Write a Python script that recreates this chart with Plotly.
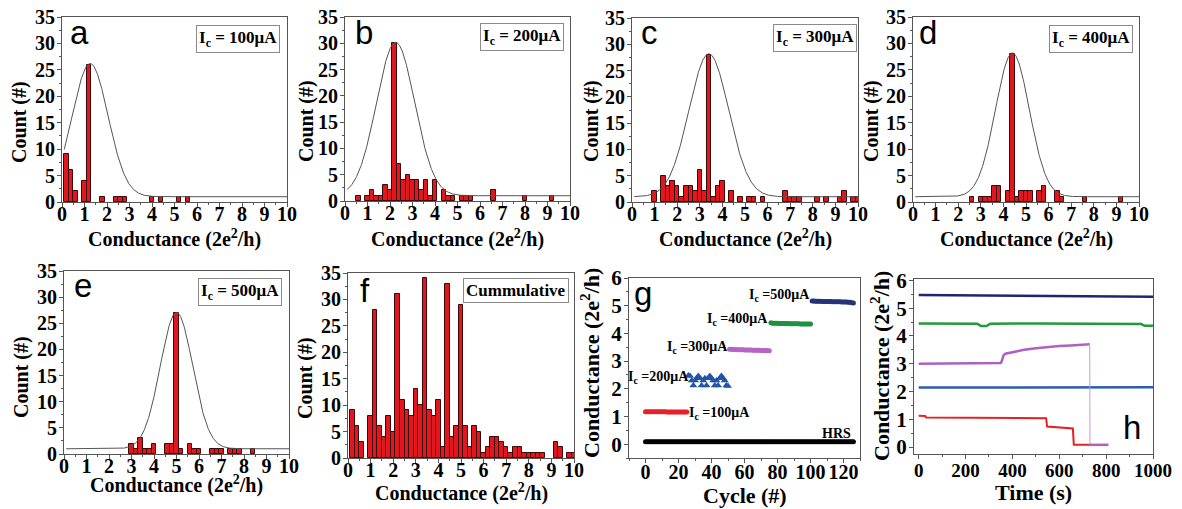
import numpy as np
import plotly.graph_objects as go

W, H = 1182, 509

# ---------------- histogram data (bin centre, count) ----------------
a_x = [0.2, 0.4, 0.6, 1.0, 1.2, 1.8, 2.4, 2.6, 2.8, 4.0, 4.4, 5.2, 5.6]
a_y = [9, 6, 2, 4, 26, 1, 1, 1, 1, 1, 1, 1, 1]

b_x = [0.6, 1.0, 1.2, 1.4, 1.6, 1.8, 2.0, 2.2, 2.4, 2.6, 2.8, 3.0, 3.2, 3.4, 3.6, 3.8, 4.0,
       4.4, 4.6, 4.8, 5.2, 5.4, 5.6, 6.6, 8.0, 9.2]
b_y = [1, 1, 2, 1, 1, 3, 2, 30, 7, 4, 5, 4, 4, 2, 4, 1, 4,
       2, 1, 1, 1, 1, 1, 2, 1, 1]

c_x = [1.0, 1.4, 1.6, 1.8, 2.0, 2.2, 2.4, 2.6, 2.8, 3.0, 3.2, 3.4, 3.6, 3.8, 4.0, 4.4, 4.8,
       5.2, 5.4, 5.8, 6.8, 7.0, 7.2, 7.4, 8.2, 8.6, 9.2, 9.4, 9.8, 10.0]
c_y = [2, 5, 3, 4, 3, 1, 3, 3, 2, 6, 2, 28, 1, 3, 4, 2, 1,
       1, 1, 1, 2, 1, 1, 1, 1, 1, 1, 2, 1, 1]

d_x = [2.6, 3.0, 3.2, 3.4, 3.6, 3.8, 4.2, 4.4, 4.6, 4.8, 5.0, 5.2, 5.6, 5.8, 6.4, 6.6, 7.6, 9.2]
d_y = [1, 1, 1, 1, 3, 3, 2, 28, 1, 2, 2, 2, 2, 3, 2, 1, 1, 1]

e_x = [3.0, 3.2, 3.4, 3.6, 3.8, 4.0, 4.6, 4.8, 5.0, 5.2, 5.6, 5.8, 6.0, 6.6, 6.8, 7.0,
       7.4, 7.6, 7.8, 8.4]
e_y = [2, 1, 3, 1, 1, 2, 2, 2, 27, 1, 2, 1, 1, 1, 1, 1,
       1, 1, 1, 1]

f_x = [0.2, 0.4, 0.6, 1.0, 1.2, 1.4, 1.6, 1.8, 2.0, 2.2, 2.4, 2.6, 2.8, 3.0, 3.2, 3.4, 3.6,
       3.8, 4.0, 4.2, 4.4, 4.6, 4.8, 5.0, 5.2, 5.4, 5.6, 5.8, 6.0, 6.2, 6.4, 6.6, 6.8, 7.0,
       7.2, 7.4, 7.6, 7.8, 8.0, 8.2, 8.4, 8.6, 9.2, 9.4, 9.8, 10.0]
f_y = [9, 6, 3, 8, 28, 6, 4, 8, 5, 31, 11, 9, 8, 13, 10, 34, 9,
       8, 11, 2, 33, 4, 6, 29, 6, 2, 6, 5, 1, 2, 4, 4, 3, 2,
       1, 2, 2, 1, 1, 1, 1, 1, 3, 2, 1, 1]

# Gaussian fit parameters for panels a-e
fit_center = [1.25, 2.25, 3.4, 4.4, 5.0]
fit_amp = [25.2, 29.2, 27.2, 27.2, 26.1]
fit_sigma = [0.8, 0.85, 0.88, 0.75, 0.72]
fit_offset = [1.0, 1.0, 1.0, 1.0, 1.0]

hist_labels = ["I<sub>c</sub> = 100μA", "I<sub>c</sub> = 200μA", "I<sub>c</sub> = 300μA",
               "I<sub>c</sub> = 400μA", "I<sub>c</sub> = 500μA", "Cummulative"]
panel_letters = ["a", "b", "c", "d", "e", "f", "g", "h"]

# ---------------- panel g: conductance vs cycle ----------------
g_c100_x = list(range(0, 26))
g_c100_y = [1.17, 1.17, 1.17, 1.17, 1.17, 1.17, 1.17, 1.17, 1.17, 1.17, 1.17, 1.17, 1.17,
            1.16, 1.16, 1.16, 1.16, 1.16, 1.16, 1.16, 1.16, 1.16, 1.16, 1.16, 1.16, 1.16]
g_c200_x = list(range(26, 51))
g_c200_y = [2.48, 2.46, 2.30, 2.12, 2.30, 2.38, 2.46, 2.38, 2.12, 2.30, 2.38, 2.12, 2.38,
            2.46, 2.38, 2.30, 2.12, 2.30, 2.12, 2.38, 2.46, 2.38, 2.30, 2.12, 2.10]
g_c300_x = list(range(51, 76))
g_c300_y = [3.43, 3.43, 3.42, 3.42, 3.42, 3.41, 3.41, 3.41, 3.41, 3.40, 3.40, 3.40, 3.40,
            3.40, 3.39, 3.39, 3.39, 3.39, 3.39, 3.38, 3.38, 3.38, 3.38, 3.37, 3.37]
g_c400_x = list(range(76, 101))
g_c400_y = [4.38, 4.37, 4.37, 4.37, 4.37, 4.36, 4.36, 4.36, 4.36, 4.36, 4.36, 4.35, 4.35,
            4.35, 4.35, 4.35, 4.35, 4.35, 4.34, 4.34, 4.34, 4.34, 4.34, 4.34, 4.34]
g_c500_x = list(range(101, 127))
g_c500_y = [5.17, 5.17, 5.16, 5.16, 5.16, 5.16, 5.15, 5.15, 5.15, 5.15, 5.15, 5.15, 5.14,
            5.14, 5.14, 5.14, 5.14, 5.14, 5.13, 5.13, 5.13, 5.13, 5.12, 5.12, 5.11, 5.10]
g_hrs_x = list(range(0, 127))
g_hrs_y = [0.085, 0.085, 0.085, 0.085, 0.085, 0.085, 0.085, 0.085, 0.085, 0.085,
           0.085, 0.085, 0.085, 0.085, 0.085, 0.085, 0.085, 0.085, 0.085, 0.085,
           0.085, 0.085, 0.085, 0.085, 0.085, 0.085, 0.085, 0.085, 0.085, 0.085,
           0.085, 0.085, 0.085, 0.085, 0.085, 0.085, 0.085, 0.085, 0.085, 0.085,
           0.085, 0.085, 0.085, 0.085, 0.085, 0.085, 0.085, 0.085, 0.085, 0.085,
           0.085, 0.085, 0.085, 0.085, 0.085, 0.085, 0.085, 0.085, 0.085, 0.085,
           0.085, 0.085, 0.085, 0.085, 0.085, 0.085, 0.085, 0.085, 0.085, 0.085,
           0.085, 0.085, 0.085, 0.085, 0.085, 0.085, 0.085, 0.085, 0.085, 0.085,
           0.085, 0.085, 0.085, 0.085, 0.085, 0.085, 0.085, 0.085, 0.085, 0.085,
           0.085, 0.085, 0.085, 0.085, 0.085, 0.085, 0.085, 0.085, 0.085, 0.085,
           0.085, 0.085, 0.085, 0.085, 0.085, 0.085, 0.085, 0.085, 0.085, 0.085,
           0.085, 0.085, 0.085, 0.085, 0.085, 0.085, 0.085, 0.085, 0.085, 0.085,
           0.085, 0.085, 0.085, 0.085, 0.085, 0.085, 0.085]
g_labels = ["I<sub>c</sub> =100μA", "I<sub>c</sub> =200μA", "I<sub>c</sub> =300μA",
            "I<sub>c</sub> =400μA", "I<sub>c</sub> =500μA", "HRS"]
g_label_x = [45, 8, 31.5, 55.5, 81.5, 115.8]
g_label_y = [1.12, 2.42, 3.5, 4.5, 5.37, 0.4]

# ---------------- panel h: conductance vs time ----------------
h_navy_t = [0, 200, 400, 600, 800, 1000]
h_navy_y = [5.47, 5.46, 5.45, 5.45, 5.43, 5.41]
h_green_t = [0, 250, 258, 265, 290, 298, 305, 500, 700, 950, 958, 965, 995, 1000]
h_green_y = [4.45, 4.44, 4.40, 4.36, 4.36, 4.40, 4.44, 4.45, 4.44, 4.43, 4.39, 4.37, 4.37, 4.38]
h_mag_t = [0, 150, 350, 355, 362, 370, 400, 450, 500, 550, 600, 650, 700, 730]
h_mag_y = [3.0, 3.01, 3.03, 3.1, 3.3, 3.36, 3.42, 3.5, 3.56, 3.61, 3.64, 3.66, 3.68, 3.70]
h_magdrop_t = [730, 731]
h_magdrop_y = [3.70, 0.08]
h_magtail_t = [731, 810]
h_magtail_y = [0.08, 0.08]
h_blue_t = [0, 500, 1000]
h_blue_y = [2.14, 2.15, 2.15]
h_red_t = [0, 28, 32, 200, 400, 540, 544, 548, 580, 620, 640, 658, 662, 731]
h_red_y = [1.13, 1.12, 1.06, 1.05, 1.06, 1.04, 1.04, 0.74, 0.72, 0.71, 0.68, 0.67, 0.08, 0.08]

# ---------------- layout geometry (pixels) ----------------
# (left, right, top, bottom)
boxes = [
    (62, 287, 17, 202), (345, 570, 17, 201), (632, 858, 18, 202), (913, 1139, 17, 202),
    (64, 289, 271, 454), (348, 574, 273, 458), (629, 860, 278, 458), (914, 1153, 279, 454),
]

SERIF = "Liberation Serif"
SANS = "Liberation Sans"
AX = "#555555"


def px_x(p):
    return p / W


def px_y(p):
    return 1 - p / H


fig = go.Figure()
annotations = []
layout = {}

hist_x = [a_x, b_x, c_x, d_x, e_x, f_x]
hist_y = [a_y, b_y, c_y, d_y, e_y, f_y]


def axis(dom, rng, dtick, minor_dtick, fsize, standoff):
    return dict(
        domain=dom, range=rng, autorange=False, automargin=False,
        showline=True, linecolor=AX, linewidth=1, mirror=True,
        ticks="outside", ticklen=4, tickwidth=1, tickcolor=AX, dtick=dtick, tick0=0,
        minor=dict(ticks="outside", ticklen=2, tickcolor=AX, dtick=minor_dtick, tick0=0, showgrid=False),
        showgrid=False, zeroline=False, fixedrange=True, ticklabelstandoff=standoff,
        tickfont=dict(family=SERIF, size=fsize, color="black", weight="bold"),
    )


for i in range(8):
    n = i + 1
    xa = "x" if n == 1 else f"x{n}"
    ya = "y" if n == 1 else f"y{n}"
    l, r, t, b = boxes[i]
    xd = [px_x(l), px_x(r)]
    yd = [px_y(b), px_y(t)]
    if i < 6:
        xax = axis(xd, [0, 10], 1, 0.5, 20, -10)
        yax = axis(yd, [0, 35], 5, 2.5, 20, -2)
    elif i == 6:
        xax = axis(xd, [-10, 130], 20, 10, 20, -8)
        yax = axis(yd, [-0.5, 6], 1, 0.5, 21, -2)
    else:
        xax = axis(xd, [-20, 1000], 200, 100, 19, -5)
        yax = axis(yd, [-0.25, 6.05], 1, 0.5, 21, -2)
    xax["anchor"] = ya
    yax["anchor"] = xa
    layout["xaxis" if n == 1 else f"xaxis{n}"] = xax
    layout["yaxis" if n == 1 else f"yaxis{n}"] = yax

    if i < 6:
        fig.add_trace(go.Bar(
            x=hist_x[i], y=hist_y[i], width=0.2, xaxis=xa, yaxis=ya,
            marker=dict(color="#E3161E", line=dict(color="#3a0a0a", width=1)),
        ))
    if i < 5:
        gx = np.linspace(0.1, 10, 500)
        gy = fit_offset[i] + fit_amp[i] * np.exp(-(gx - fit_center[i]) ** 2 / (2 * fit_sigma[i] ** 2))
        fig.add_trace(go.Scatter(x=gx, y=gy, mode="lines", xaxis=xa, yaxis=ya,
                                 line=dict(color="#555555", width=1)))

# panel g traces
g_series = [
    (g_hrs_x, g_hrs_y, "#000000", "circle"),
    (g_c100_x, g_c100_y, "#E8202A", "circle"),
    (g_c300_x, g_c300_y, "#B565C3", "circle"),
    (g_c400_x, g_c400_y, "#1E9140", "circle"),
    (g_c500_x, g_c500_y, "#243478", "circle"),
]
for xs, ys, col, sym in g_series:
    fig.add_trace(go.Scatter(x=xs, y=ys, mode="lines+markers", xaxis="x7", yaxis="y7",
                             line=dict(color=col, width=3),
                             marker=dict(color=col, size=5, symbol=sym)))
fig.add_trace(go.Scatter(x=g_c200_x, y=g_c200_y, mode="markers", xaxis="x7", yaxis="y7",
                         marker=dict(color="#2155A5", size=7, symbol="triangle-up")))

for txt, gx_, gy_ in zip(g_labels, g_label_x, g_label_y):
    annotations.append(dict(x=gx_, y=gy_, xref="x7", yref="y7", text=txt, showarrow=False,
                            font=dict(family=SERIF, size=14, color="black", weight="bold"),
                            xanchor="center", yanchor="middle"))

# panel h traces
h_series = [
    (h_navy_t, h_navy_y, "#1F2670", 2.5),
    (h_green_t, h_green_y, "#22993A", 2.5),
    (h_blue_t, h_blue_y, "#2B5DB0", 2.5),
    (h_red_t, h_red_y, "#E82020", 2),
    (h_mag_t, h_mag_y, "#B060C0", 2.5),
    (h_magdrop_t, h_magdrop_y, "#C89AD0", 1),
    (h_magtail_t, h_magtail_y, "#B060C0", 2.5),
]
for xs, ys, col, w in h_series:
    fig.add_trace(go.Scatter(x=xs, y=ys, mode="lines", xaxis="x8", yaxis="y8",
                             line=dict(color=col, width=w)))

# ---------------- annotations ----------------
label_box = [(280, 25), (564, 23), (857, 24), (1133, 25), (282, 278), (569, 278)]
for txt, (rx, ty) in zip(hist_labels, label_box):
    annotations.append(dict(x=px_x(rx), y=px_y(ty), xref="paper", yref="paper", text=txt,
                            showarrow=False, xanchor="right", yanchor="top",
                            font=dict(family=SERIF, size=17, color="black", weight="bold"),
                            bordercolor="#8a8a8a", borderwidth=1, borderpad=2, bgcolor="white"))

letter_pos = [(79, 33), (364, 32), (649, 32), (928, 32), (83, 285), (365, 290), (643, 293), (1132, 427)]
for L, (lx, ly) in zip(panel_letters, letter_pos):
    annotations.append(dict(x=px_x(lx), y=px_y(ly), xref="paper", yref="paper", text=L,
                            showarrow=False, xanchor="center", yanchor="middle",
                            font=dict(family=SANS, size=33, color="black")))

xt = "Conductance (2e<sup>2</sup>/h)"
x_titles = [xt, xt, xt, xt, xt, xt, "Cycle (#)", "Time (s)"]
x_title_y = [238, 238, 238, 238, 484, 492, 495, 492]
x_title_size = [20, 20, 20, 20, 20, 20, 22, 22]
for i in range(8):
    l, r, t, b = boxes[i]
    annotations.append(dict(x=px_x((l + r) / 2), y=px_y(x_title_y[i]), xref="paper", yref="paper",
                            text=x_titles[i], showarrow=False, xanchor="center", yanchor="middle",
                            font=dict(family=SERIF, size=x_title_size[i], color="black", weight="bold")))

y_titles = ["Count (#)"] * 6 + [xt, xt]
y_title_pos = [(20, 122), (307, 121), (592, 121), (872, 121), (21, 377), (305, 378), (590, 363), (880, 366)]
y_title_size = [20, 20, 20, 20, 20, 20, 22, 22]
for i in range(8):
    tx, ty = y_title_pos[i]
    annotations.append(dict(x=px_x(tx), y=px_y(ty), xref="paper", yref="paper", text=y_titles[i],
                            showarrow=False, textangle=-90, xanchor="center", yanchor="middle",
                            font=dict(family=SERIF, size=y_title_size[i], color="black", weight="bold")))

fig.update_layout(
    width=W, height=H, autosize=False,
    margin=dict(l=0, r=0, t=0, b=0, pad=0, autoexpand=False),
    paper_bgcolor="white", plot_bgcolor="white", showlegend=False,
    bargap=0, annotations=annotations, **layout,
)

fig.write_html(
    "out.html",
    config={"responsive": False, "displayModeBar": False},
    post_script="document.body.style.margin='0px';document.body.style.padding='0px';"
                "document.body.style.overflow='hidden';",
)
